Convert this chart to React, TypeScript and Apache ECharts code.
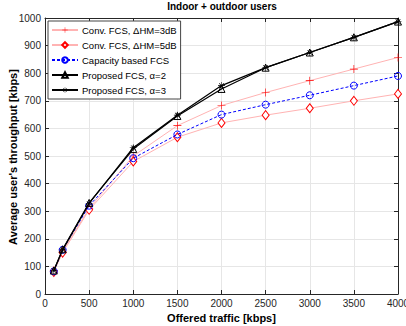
import React, { useEffect, useRef } from "react";
import * as echarts from "echarts";

const xValues = [100, 200, 500, 1000, 1500, 2000, 2500, 3000, 3500, 4000];
const conv3dB = [85, 155, 310, 500, 610, 683, 730, 773, 815, 857];
const conv5dB = [80, 150, 305, 480, 568, 620, 648, 673, 700, 725];
const capacityFCS = [82, 160, 320, 492, 578, 650, 686, 720, 755, 790];
const proposedA2 = [85, 162, 330, 525, 645, 743, 820, 875, 930, 987];
const proposedA3 = [85, 160, 328, 530, 648, 755, 820, 875, 930, 987];
const seriesNames = [
  "Conv. FCS, ΔHM=3dB",
  "Conv. FCS, ΔHM=5dB",
  "Capacity based FCS",
  "Proposed FCS, α=2",
  "Proposed FCS, α=3",
];

const plusPath = "path://M4.6,0H5.4V10H4.6Z M0,4.6H10V5.4H0Z";
const starPath =
  "path://M4.6,0H5.4V10H4.6Z M0,4.6H10V5.4H0Z M1.3,1.9L1.9,1.3L8.7,8.1L8.1,8.7Z M8.1,1.3L8.7,1.9L1.9,8.7L1.3,8.1Z";

const FONT = "Liberation Sans, Arial, sans-serif";

export default function App() {
  const ref = useRef<HTMLDivElement>(null);
  useEffect(() => {
    if (!ref.current) return;
    const chart = echarts.init(ref.current, undefined, { renderer: "svg" });
    const mk = (vals: number[]) => vals.map((v, i) => [xValues[i], v]);
    const fmt = (v: number) => String(v);
    chart.setOption({
      animation: false,
      backgroundColor: "#fff",
      textStyle: { fontFamily: FONT },
      title: {
        text: "Indoor + outdoor users",
        left: 222,
        textAlign: "center",
        top: 1,
        padding: 0,
        textStyle: { fontSize: 10, fontWeight: "bold", color: "#000", fontFamily: FONT },
      },
      graphic: [
        {
          type: "text",
          x: 13,
          y: 157,
          rotation: Math.PI / 2,
          style: {
            text: "Average user's throughput [kbps]",
            fontSize: 11,
            fontWeight: "bold",
            fill: "#000",
            fontFamily: FONT,
            align: "center",
            verticalAlign: "middle",
          },
        },
      ],
      grid: { left: 45, right: 8, top: 18, bottom: 32, outerBoundsMode: "none", containLabel: false },
      legend: {
        left: 48,
        top: 21,
        orient: "vertical",
        backgroundColor: "#fff",
        borderColor: "#444",
        borderWidth: 1,
        borderRadius: 0,
        padding: [4, 4, 4, 3],
        itemWidth: 26,
        itemHeight: 7,
        itemGap: 5,
        textStyle: { fontSize: 9.5, color: "#000", fontFamily: FONT, padding: [0, 0, 0, -1] },
        data: seriesNames,
      },
      xAxis: [
        {
          type: "value",
          min: 0,
          max: 4000,
          interval: 500,
          axisLine: { show: true, onZero: false, lineStyle: { color: "#262626", width: 1 } },
          axisTick: { show: true, inside: true, length: 4, lineStyle: { color: "#262626" } },
          axisLabel: { fontSize: 10, color: "#262626", margin: 4, fontFamily: FONT, formatter: fmt },
          splitLine: { show: true, lineStyle: { color: "#e6e6e6", width: 1 } },
          name: "Offered traffic [kbps]",
          nameLocation: "middle",
          nameGap: 15,
          nameTextStyle: { fontSize: 11, fontWeight: "bold", color: "#000", fontFamily: FONT },
        },
        {
          type: "value",
          position: "top",
          min: 0,
          max: 4000,
          interval: 500,
          axisLine: { show: true, onZero: false, lineStyle: { color: "#262626", width: 1 } },
          axisTick: { show: true, inside: true, length: 4, lineStyle: { color: "#262626" } },
          axisLabel: { show: false },
          splitLine: { show: false },
        },
      ],
      yAxis: [
        {
          type: "value",
          min: 0,
          max: 1000,
          interval: 100,
          axisLine: { show: true, onZero: false, lineStyle: { color: "#262626", width: 1 } },
          axisTick: { show: true, inside: true, length: 4, lineStyle: { color: "#262626" } },
          axisLabel: { fontSize: 10, color: "#262626", margin: 4, fontFamily: FONT, formatter: fmt },
          splitLine: { show: true, lineStyle: { color: "#e6e6e6", width: 1 } },
        },
        {
          type: "value",
          position: "right",
          min: 0,
          max: 1000,
          interval: 100,
          axisLine: { show: true, onZero: false, lineStyle: { color: "#262626", width: 1 } },
          axisTick: { show: true, inside: true, length: 4, lineStyle: { color: "#262626" } },
          axisLabel: { show: false },
          splitLine: { show: false },
        },
      ],
      series: [
        {
          name: seriesNames[0],
          type: "line",
          data: mk(conv3dB),
          symbol: plusPath,
          symbolSize: 8,
          lineStyle: { color: "#ffb3b3", width: 1 },
          itemStyle: { color: "#ff0000" },
          z: 2,
        },
        {
          name: seriesNames[1],
          type: "line",
          data: mk(conv5dB),
          symbol: "diamond",
          symbolSize: [7, 9],
          lineStyle: { color: "#ffb3b3", width: 1 },
          itemStyle: { color: "#fff", borderColor: "#ff0000", borderWidth: 1 },
          z: 2,
        },
        {
          name: seriesNames[2],
          type: "line",
          data: mk(capacityFCS),
          symbol: "circle",
          symbolSize: 7,
          lineStyle: { color: "#0000ff", width: 1, type: [3, 2] },
          itemStyle: { color: "rgba(255,255,255,0)", borderColor: "#0000ff", borderWidth: 1 },
          z: 3,
        },
        {
          name: seriesNames[3],
          type: "line",
          data: mk(proposedA2),
          symbol: "triangle",
          symbolSize: 7,
          lineStyle: { color: "#000", width: 1.2 },
          itemStyle: { color: "rgba(255,255,255,0)", borderColor: "#000", borderWidth: 1 },
          z: 4,
        },
        {
          name: seriesNames[4],
          type: "line",
          data: mk(proposedA3),
          symbol: starPath,
          symbolSize: 7,
          lineStyle: { color: "#000", width: 1.2 },
          itemStyle: { color: "#000" },
          z: 4,
        },
      ],
    });
    return () => chart.dispose();
  }, []);
  return <div ref={ref} style={{ width: 406, height: 326, position: "absolute", left: 0, top: 0 }} />;
}
